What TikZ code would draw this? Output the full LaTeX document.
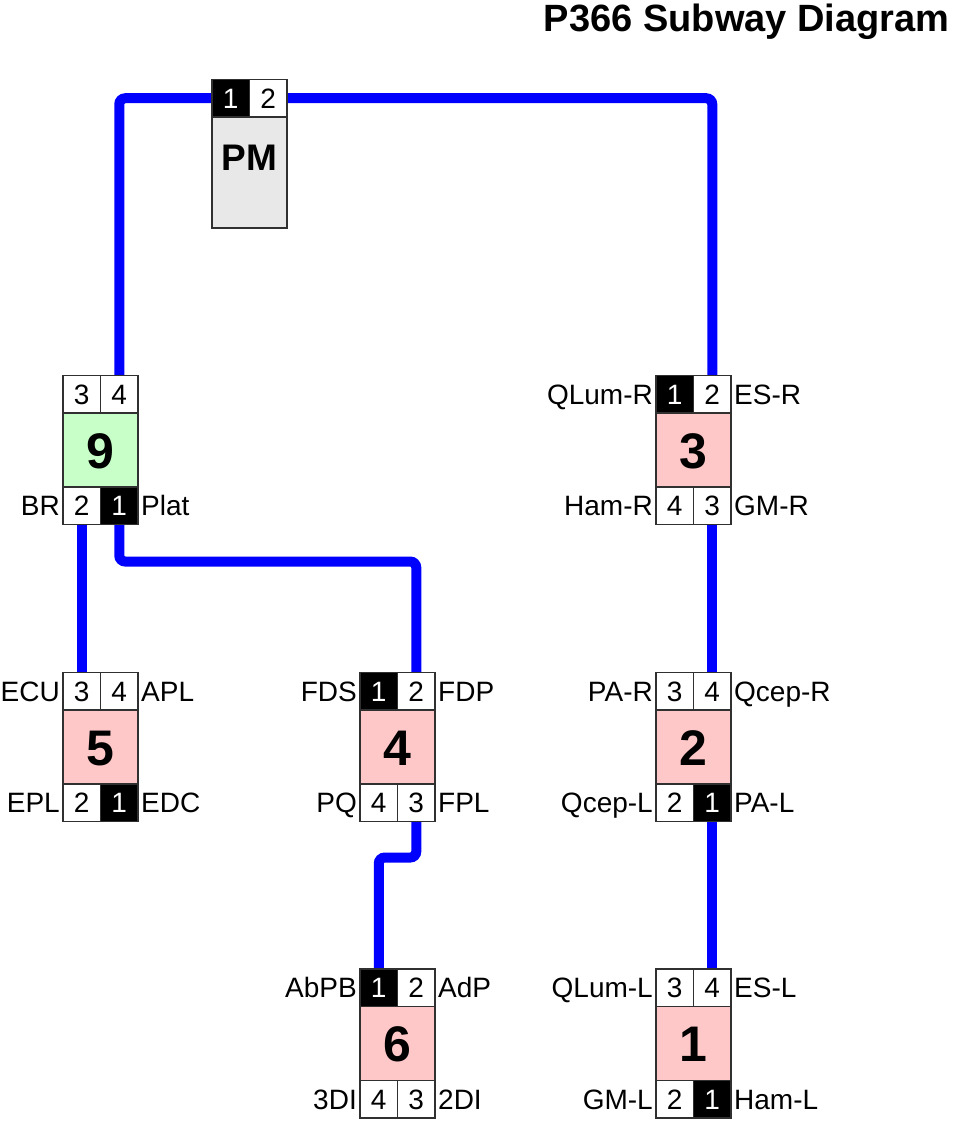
\documentclass[tikz,border=0pt]{standalone}
\usepackage{fontspec}
\setmainfont{Liberation Sans}
\usepackage{tikz}
\usetikzlibrary{backgrounds,positioning}
\definecolor{Track}{HTML}{0000FF}
\definecolor{Rose}{HTML}{FFC8C8}
\definecolor{Mint}{HTML}{C8FFC8}
\definecolor{Silver}{HTML}{E8E8E8}
\definecolor{Edge}{HTML}{303030}

\begin{document}
\begin{tikzpicture}[
  x=1pt, y=-1pt,
  node distance=1pt,
  body/.style={draw=Edge, line width=1.5pt, outer sep=0pt, inner sep=0pt,
    minimum width=75pt, minimum height=74pt, text height=36pt, text depth=0pt,
    font=\fontsize{50}{50}\selectfont\bfseries},
  port/.style={draw=Edge, line width=1.5pt, outer sep=0pt, inner sep=0pt, fill=white,
    minimum width=37.5pt, minimum height=37.5pt, text height=20pt, text depth=0pt,
    font=\fontsize{28}{28}\selectfont},
  firstport/.style={port, fill=black, text=white},
  tag/.style={inner sep=2pt, text height=20pt, text depth=0pt,
    font=\fontsize{28}{28}\selectfont},
  track/.style={draw=Track, line width=10pt, rounded corners=6pt}
]
\useasboundingbox (0,0) rectangle (958,1123);

\node[anchor=base east, font=\fontsize{38}{38}\selectfont\bfseries] (title) at (953,32)
  {P366 Subway Diagram};

% Platform module on top, ports only on its upper edge.
\node[body, fill=Silver, minimum height=111pt, text height=27pt, text depth=31pt,
  font=\fontsize{37}{37}\selectfont\bfseries] (pm) at (249.5,172.5) {PM};
\node[firstport, anchor=south east] (pmp1) at (pm.north) {1};
\node[port, anchor=south west] (pmp2) at (pm.north) {2};

% Station 9.
\node[body, fill=Mint] (s9) at (100.5,450) {9};
\node[port, anchor=south east] (s9p3) at (s9.north) {3};
\node[port, anchor=south west] (s9p4) at (s9.north) {4};
\node[port, anchor=north east] (s9p2) at (s9.south) {2};
\node[firstport, anchor=north west] (s9p1) at (s9.south) {1};
\node[tag, left=of s9p2] (s9l2) {BR};
\node[tag, right=of s9p1] (s9l1) {Plat};

% Station 3.
\node[body, fill=Rose] (s3) at (693.5,450) {3};
\node[firstport, anchor=south east] (s3p1) at (s3.north) {1};
\node[port, anchor=south west] (s3p2) at (s3.north) {2};
\node[port, anchor=north east] (s3p4) at (s3.south) {4};
\node[port, anchor=north west] (s3p3) at (s3.south) {3};
\node[tag, left=of s3p1] (s3l1) {QLum-R};
\node[tag, right=of s3p2] (s3l2) {ES-R};
\node[tag, left=of s3p4] (s3l4) {Ham-R};
\node[tag, right=of s3p3] (s3l3) {GM-R};

% Station 5.
\node[body, fill=Rose] (s5) at (100.5,747) {5};
\node[port, anchor=south east] (s5p3) at (s5.north) {3};
\node[port, anchor=south west] (s5p4) at (s5.north) {4};
\node[port, anchor=north east] (s5p2) at (s5.south) {2};
\node[firstport, anchor=north west] (s5p1) at (s5.south) {1};
\node[tag, left=of s5p3] (s5l3) {ECU};
\node[tag, right=of s5p4] (s5l4) {APL};
\node[tag, left=of s5p2] (s5l2) {EPL};
\node[tag, right=of s5p1] (s5l1) {EDC};

% Station 4.
\node[body, fill=Rose] (s4) at (397.5,747) {4};
\node[firstport, anchor=south east] (s4p1) at (s4.north) {1};
\node[port, anchor=south west] (s4p2) at (s4.north) {2};
\node[port, anchor=north east] (s4p4) at (s4.south) {4};
\node[port, anchor=north west] (s4p3) at (s4.south) {3};
\node[tag, left=of s4p1] (s4l1) {FDS};
\node[tag, right=of s4p2] (s4l2) {FDP};
\node[tag, left=of s4p4] (s4l4) {PQ};
\node[tag, right=of s4p3] (s4l3) {FPL};

% Station 2.
\node[body, fill=Rose] (s2) at (693.5,747) {2};
\node[port, anchor=south east] (s2p3) at (s2.north) {3};
\node[port, anchor=south west] (s2p4) at (s2.north) {4};
\node[port, anchor=north east] (s2p2) at (s2.south) {2};
\node[firstport, anchor=north west] (s2p1) at (s2.south) {1};
\node[tag, left=of s2p3] (s2l3) {PA-R};
\node[tag, right=of s2p4] (s2l4) {Qcep-R};
\node[tag, left=of s2p2] (s2l2) {Qcep-L};
\node[tag, right=of s2p1] (s2l1) {PA-L};

% Station 6.
\node[body, fill=Rose] (s6) at (397.5,1043.5) {6};
\node[firstport, anchor=south east] (s6p1) at (s6.north) {1};
\node[port, anchor=south west] (s6p2) at (s6.north) {2};
\node[port, anchor=north east] (s6p4) at (s6.south) {4};
\node[port, anchor=north west] (s6p3) at (s6.south) {3};
\node[tag, left=of s6p1] (s6l1) {AbPB};
\node[tag, right=of s6p2] (s6l2) {AdP};
\node[tag, left=of s6p4] (s6l4) {3DI};
\node[tag, right=of s6p3] (s6l3) {2DI};

% Station 1.
\node[body, fill=Rose] (s1) at (693.5,1043.5) {1};
\node[port, anchor=south east] (s1p3) at (s1.north) {3};
\node[port, anchor=south west] (s1p4) at (s1.north) {4};
\node[port, anchor=north east] (s1p2) at (s1.south) {2};
\node[firstport, anchor=north west] (s1p1) at (s1.south) {1};
\node[tag, left=of s1p3] (s1l3) {QLum-L};
\node[tag, right=of s1p4] (s1l4) {ES-L};
\node[tag, left=of s1p2] (s1l2) {GM-L};
\node[tag, right=of s1p1] (s1l1) {Ham-L};

% Tracks run under the boxes.
\begin{scope}[on background layer]
  \draw[track] (s9p4.north) |- (pmp1.west);
  \draw[track] (pmp2.east) -| (s3p2.north);
  \draw[track] (s9p2.south) -- (s5p3.north);
  \draw[track] (s9p1.south) -- ++(0,37) -| (s4p2.north);
  \draw[track] (s3p3.south) -- (s2p4.north);
  \draw[track] (s4p3.south) -- ++(0,36) -| (s6p1.north);
  \draw[track] (s2p1.south) -- (s1p4.north);
\end{scope}
\end{tikzpicture}
\end{document}
